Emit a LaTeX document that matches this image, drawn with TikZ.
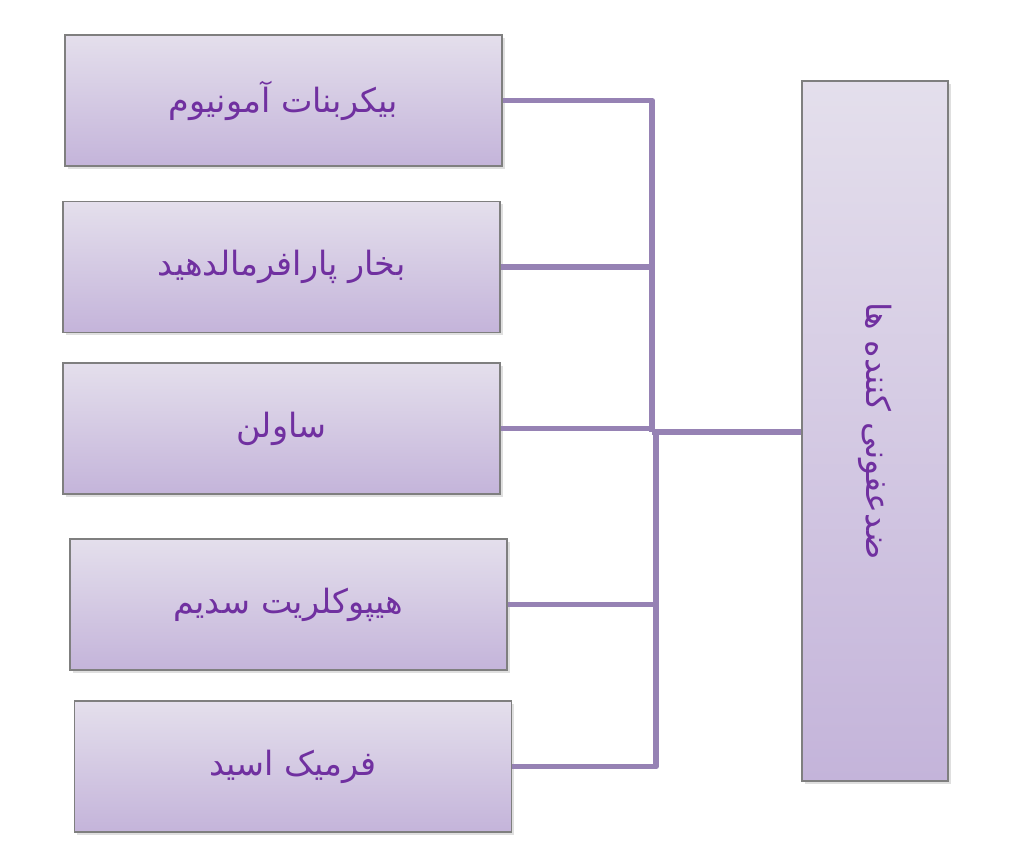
\documentclass[tikz,border=0pt]{standalone}
\usepackage{fontspec}
\newfontfamily\arabicfont[Script=Arabic]{DejaVu Sans}
\TeXXeTstate=1
\usepackage{xcolor}
\usepackage{tikz}
\usetikzlibrary{positioning}
\usetikzlibrary{shadows}
\definecolor{box-top}{HTML}{E4DFEC}
\definecolor{box-bottom}{HTML}{C4B4DA}
\definecolor{box-border}{HTML}{7F7F7F}
\definecolor{link-purple}{HTML}{9682B4}
\definecolor{text-purple}{HTML}{7030A0}

\begin{document}
\begin{tikzpicture}[
      type-item/.style={rectangle, draw=box-border, top color=box-top, bottom color=box-bottom, semithick,
        minimum width=8.74cm, minimum height=2.62cm, text=text-purple,
        font=\arabicfont\fontsize{19}{23}\selectfont,
        drop shadow={opacity=0.25, shadow xshift=0.05cm, shadow yshift=-0.06cm}},
      type-group/.style={type-item, minimum width=2.92cm, minimum height=14cm},
      type-label/.style={text=text-purple, font=\arabicfont\fontsize{19}{23}\selectfont, rotate=-90},
      type-link/.style={draw=link-purple, line width=3.3pt, line join=round}
    ]
      \useasboundingbox (0,0) rectangle (20.48,-17.32);
      % disinfectants
      \node[type-group] (agent) at (17.5,-8.62) {};
      \node[type-label] (agent-text) at (agent.center) {\beginR ضدعفونی کننده ها\endR};
      % items
      \node[type-item] (b1) at (5.67,-2.01) {\beginR بیکربنات آمونیوم\endR};
      \node[type-item] (b2) at (5.63,-5.34) {\beginR بخار پارافرمالدهید\endR};
      \node[type-item] (b3) at (5.63,-8.57) {\beginR ساولن\endR};
      \node[type-item] (b4) at (5.77,-12.09) {\beginR هیپوکلریت سدیم\endR};
      \node[type-item] (b5) at (5.86,-15.33) {\beginR فرمیک اسید\endR};
      % bus
      \coordinate (bus-a) at (13.04,-8.64);
      \coordinate (bus-b) at (13.12,-8.64);
      \draw[type-link] (b1.east) -| (bus-a);
      \draw[type-link] (b2.east) -| (bus-a);
      \draw[type-link] (b3.east) -| (bus-a);
      \draw[type-link] (b4.east) -| (bus-b);
      \draw[type-link] (b5.east) -| (bus-b);
      \draw[type-link] (bus-a) -- (agent.west |- bus-a);
\end{tikzpicture}
\end{document}
